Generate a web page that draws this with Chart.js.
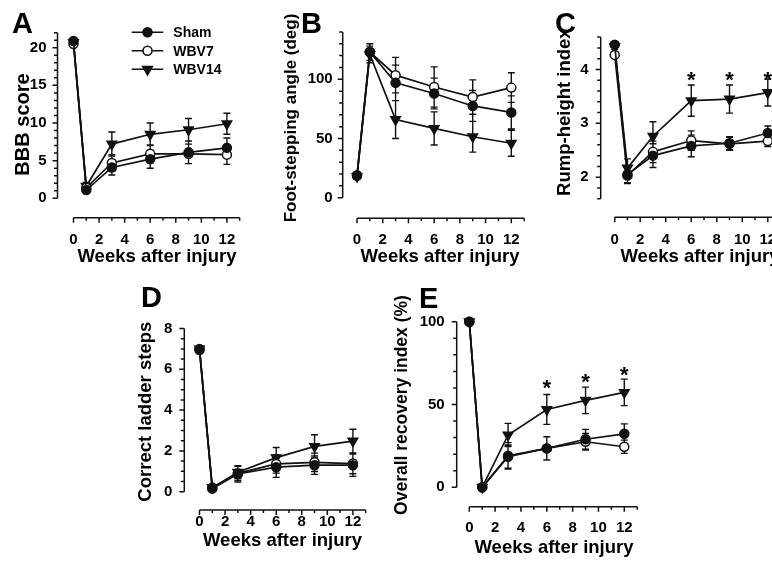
<!DOCTYPE html>
<html>
<head>
<meta charset="utf-8">
<script src="https://cdn.jsdelivr.net/npm/chart.js@4.4.1/dist/chart.umd.min.js"></script>
<style>
  html, body { margin: 0; padding: 0; background: #fff; overflow: hidden; width: 772px; height: 561px; }
  canvas { position: absolute; left: 0; top: 0; }
</style>
</head>
<body>
<canvas id="panelA" width="820" height="561"></canvas>
<canvas id="panelB" width="820" height="561"></canvas>
<canvas id="panelC" width="820" height="561"></canvas>
<canvas id="panelD" width="820" height="561"></canvas>
<canvas id="panelE" width="820" height="561"></canvas>
<script>
// Data (means and error bars per group)
const weeks = [0, 1, 3, 6, 9, 12];
const groups = ['Sham', 'WBV7', 'WBV14'];
const xTickLabels = [0, 2, 4, 6, 8, 10, 12];
const xMinorTicks = [0, 1, 2, 3, 4, 5, 6, 7, 8, 9, 10, 11, 12, 13];
const sigWeeks = [6, 9, 12];

// A - BBB score
const bbbSham = [20.9, 1.1, 4.1, 5.2, 6.1, 6.7];
const bbbShamErr = [0.3, 0.3, 1.0, 1.2, 1.5, 1.3];
const bbbWbv7 = [20.5, 1.4, 4.7, 5.9, 5.9, 5.8];
const bbbWbv7Err = [0.3, 0.4, 1.1, 1.2, 1.3, 1.3];
const bbbWbv14 = [20.7, 1.6, 7.2, 8.5, 9.1, 9.9];
const bbbWbv14Err = [0.3, 0.5, 1.6, 1.5, 1.5, 1.4];
const bbbTicks = [0, 5, 10, 15, 20];
const bbbMinor = [0, 1, 2, 3, 4, 5, 6, 7, 8, 9, 10, 11, 12, 13, 14, 15, 16, 17, 18, 19, 20, 21, 22];

// B - foot-stepping angle
const fsaSham = [18.5, 123, 97, 88, 77.5, 72];
const fsaShamErr = [2, 7, 15, 13, 13, 14];
const fsaWbv7 = [19, 123, 103.5, 93.5, 85, 93];
const fsaWbv7Err = [2, 7, 15, 17, 14.5, 12.5];
const fsaWbv14 = [18, 121, 66, 58.5, 51.5, 46];
const fsaWbv14Err = [2, 7, 16, 14, 13, 11];
const fsaTicks = [0, 50, 100];
const fsaMinor = [0, 10, 20, 30, 40, 50, 60, 70, 80, 90, 100, 110, 120, 130, 140];

// C - rump-height index
const rhiSham = [4.46, 2.05, 2.40, 2.58, 2.63, 2.82];
const rhiShamErr = [0.05, 0.15, 0.22, 0.2, 0.12, 0.13];
const rhiWbv7 = [4.27, 2.03, 2.47, 2.68, 2.62, 2.67];
const rhiWbv7Err = [0.05, 0.15, 0.2, 0.18, 0.12, 0.1];
const rhiWbv14 = [4.42, 2.17, 2.76, 3.42, 3.45, 3.57];
const rhiWbv14Err = [0.05, 0.17, 0.27, 0.29, 0.26, 0.25];
const rhiTicks = [2, 3, 4];
const rhiMinor = [1.6, 1.8, 2, 2.2, 2.4, 2.6, 2.8, 3, 3.2, 3.4, 3.6, 3.8, 4, 4.2, 4.4, 4.6];
const rhiSig = [3.9, 3.9, 3.9];

// D - correct ladder steps
const ladSham = [7.0, 0.15, 0.87, 1.2, 1.3, 1.3];
const ladShamErr = [0.1, 0.1, 0.4, 0.5, 0.45, 0.55];
const ladWbv7 = [6.95, 0.2, 0.9, 1.36, 1.44, 1.38];
const ladWbv7Err = [0.1, 0.1, 0.35, 0.45, 0.45, 0.5];
const ladWbv14 = [7.0, 0.2, 0.95, 1.67, 2.22, 2.48];
const ladWbv14Err = [0.1, 0.1, 0.3, 0.5, 0.57, 0.58];
const ladTicks = [0, 2, 4, 6, 8];
const ladMinor = [0, 0.5, 1, 1.5, 2, 2.5, 3, 3.5, 4, 4.5, 5, 5.5, 6, 6.5, 7, 7.5, 8];

// E - overall recovery index
const oriSham = [100, 0, 18.5, 23.5, 29, 32.3];
const oriShamErr = [0, 0, 7, 7, 6, 6];
const oriWbv7 = [100, 0, 19, 23.5, 27.5, 24.5];
const oriWbv7Err = [0, 0, 8, 7, 5, 4];
const oriWbv14 = [100, 0, 31.6, 47, 52.5, 57.3];
const oriWbv14Err = [0, 0, 7, 9, 8, 8];
const oriTicks = [0, 50, 100];
const oriMinor = [0, 10, 20, 30, 40, 50, 60, 70, 80, 90, 100];
const oriSig = [63, 67, 71];

const FONT = "'Liberation Sans', Arial, Helvetica, sans-serif";
Chart.defaults.font.family = FONT;
Chart.defaults.font.weight = 'bold';
Chart.defaults.color = '#000';

const INK = '#111';
const TICK_SIZE = 15;
const XTITLE_SIZE = 18.5;
const styles = [
  { pointStyle: 'circle', radius: 4.5, bg: INK, rotation: 0 },
  { pointStyle: 'circle', radius: 4.5, bg: '#fff', rotation: 0 },
  { pointStyle: 'triangle', radius: 5.5, bg: INK, rotation: 180 }
];

// axes, ticks, error bars, stars, letters and legend
const deco = {
  id: 'deco',
  beforeDatasetsDraw(chart, args, o) {
    const { ctx, chartArea: a, scales: { x, y } } = chart;
    ctx.save();
    ctx.strokeStyle = INK;
    ctx.lineWidth = 1.5;
    ctx.beginPath();
    ctx.moveTo(a.left, y.getPixelForValue(o.yMinor[o.yMinor.length - 1]));
    ctx.lineTo(a.left, y.getPixelForValue(o.yMinor[0]));
    o.yMinor.forEach(v => {
      const p = y.getPixelForValue(v);
      const len = o.yMajor.includes(v) ? 5 : 3.5;
      ctx.moveTo(a.left - len, p);
      ctx.lineTo(a.left, p);
    });
    ctx.moveTo(x.getPixelForValue(xMinorTicks[0]), a.bottom);
    ctx.lineTo(x.getPixelForValue(xMinorTicks[xMinorTicks.length - 1]), a.bottom);
    xMinorTicks.forEach(v => {
      const p = x.getPixelForValue(v);
      const len = xTickLabels.includes(v) ? 5 : 3;
      ctx.moveTo(p, a.bottom);
      ctx.lineTo(p, a.bottom + len);
    });
    ctx.stroke();

    // error bars
    ctx.lineWidth = 1.4;
    ctx.beginPath();
    chart.data.datasets.forEach(ds => {
      ds.data.forEach((pt, i) => {
        const e = ds.err[i];
        if (!e) return;
        const px = x.getPixelForValue(pt.x);
        const hi = y.getPixelForValue(pt.y + e);
        const lo = y.getPixelForValue(pt.y - e);
        ctx.moveTo(px, hi); ctx.lineTo(px, lo);
        ctx.moveTo(px - 3.5, hi); ctx.lineTo(px + 3.5, hi);
        ctx.moveTo(px - 3.5, lo); ctx.lineTo(px + 3.5, lo);
      });
    });
    ctx.stroke();
    ctx.restore();
  },
  afterDraw(chart, args, o) {
    const { ctx, scales: { x, y } } = chart;
    ctx.save();
    ctx.fillStyle = '#000';
    // panel letter
    ctx.font = 'bold 29px ' + FONT;
    ctx.textBaseline = 'alphabetic';
    ctx.textAlign = 'left';
    ctx.fillText(o.letter.text, o.letter.x, o.letter.y);
    // significance stars
    if (o.sig) {
      ctx.font = 'bold 22px ' + FONT;
      ctx.textAlign = 'center';
      sigWeeks.forEach((w, i) => {
        ctx.fillText('*', x.getPixelForValue(w), y.getPixelForValue(o.sig[i]) + 12.5);
      });
    }
    // legend
    if (o.legend) {
      const L = o.legend;
      groups.forEach((g, i) => {
        const ly = L.y + i * L.dy;
        ctx.strokeStyle = INK;
        ctx.lineWidth = 1.6;
        ctx.beginPath();
        ctx.moveTo(L.x0, ly); ctx.lineTo(L.x1, ly);
        ctx.stroke();
        const s = styles[i];
        ctx.fillStyle = s.bg;
        Chart.helpers.drawPoint(ctx, { pointStyle: s.pointStyle, radius: s.radius, rotation: s.rotation, borderWidth: 1.5 }, (L.x0 + L.x1) / 2, ly);
        ctx.fillStyle = '#000';
        ctx.font = 'bold 14px ' + FONT;
        ctx.textAlign = 'left';
        ctx.textBaseline = 'middle';
        ctx.fillText(g, L.tx, ly + 1);
      });
    }
    ctx.restore();
  }
};

function valueAt(cal, p) {
  const [v0, p0, v1, p1] = cal;
  return v0 + (p - p0) * (v1 - v0) / (p1 - p0);
}

function makePanel(id, layout, series, errs, yTicks, yMinor, yTitle, extra) {
  const a = layout.area;
  const W = 820, H = 561;
  const datasets = series.map((vals, i) => ({
    label: groups[i],
    data: weeks.map((w, k) => ({ x: w, y: vals[k] })),
    err: errs[i],
    borderColor: INK,
    borderWidth: 1.7,
    backgroundColor: styles[i].bg,
    pointBackgroundColor: styles[i].bg,
    pointBorderColor: INK,
    pointBorderWidth: 1.5,
    pointStyle: styles[i].pointStyle,
    pointRotation: styles[i].rotation,
    pointRadius: styles[i].radius,
    pointHoverRadius: styles[i].radius,
    tension: 0,
    clip: false
  }));
  return new Chart(document.getElementById(id), {
    type: 'line',
    data: { datasets },
    options: {
      responsive: false,
      animation: false,
      events: [],
      layout: { padding: { left: 0, top: a.t, right: W - a.r, bottom: 0 } },
      scales: {
        x: {
          type: 'linear',
          min: valueAt(layout.xCal, a.l),
          max: valueAt(layout.xCal, a.r),
          grid: { display: false, drawTicks: false },
          border: { display: false },
          afterBuildTicks: s => { s.ticks = xTickLabels.map(v => ({ value: v })); },
          afterFit: s => { s.height = H - a.b; s.paddingLeft = 0; s.paddingRight = 0; },
          ticks: {
            autoSkip: false, maxRotation: 0,
            padding: layout.xLabelY - a.b - TICK_SIZE * 0.6,
            font: { size: TICK_SIZE, weight: 'bold' },
            callback: v => String(v)
          },
          title: {
            display: true, text: 'Weeks after injury',
            font: { size: XTITLE_SIZE, weight: 'bold' },
            padding: { top: 0, bottom: H - layout.xTitleY - XTITLE_SIZE * 0.6 }
          }
        },
        y: {
          type: 'linear',
          min: valueAt(layout.yCal, a.b),
          max: valueAt(layout.yCal, a.t),
          grid: { display: false, drawTicks: false },
          border: { display: false },
          afterBuildTicks: s => { s.ticks = yTicks.map(v => ({ value: v })); },
          afterFit: s => { s.width = a.l; s.paddingTop = 0; s.paddingBottom = 0; },
          ticks: {
            autoSkip: false,
            padding: layout.yGap,
            font: { size: TICK_SIZE, weight: 'bold' },
            callback: v => String(v)
          },
          title: {
            display: true, text: yTitle,
            font: { size: layout.yTitleSize, weight: 'bold' },
            padding: { top: layout.yTitleX - layout.yTitleSize * 0.6, bottom: 0 }
          }
        }
      },
      plugins: {
        legend: { display: false },
        tooltip: { enabled: false },
        deco: Object.assign({ yMinor, yMajor: yTicks }, extra)
      }
    },
    plugins: [deco]
  });
}

makePanel('panelA',
  { area: { l: 57.5, r: 256.5, t: 31.3, b: 217.7 }, xCal: [0, 73.5, 12, 226.9], yCal: [0, 198.3, 20, 47.7],
    yTitleX: 23, yTitleSize: 20, xTitleY: 257, xLabelY: 240, yGap: 11 },
  [bbbSham, bbbWbv7, bbbWbv14], [bbbShamErr, bbbWbv7Err, bbbWbv14Err],
  bbbTicks, bbbMinor, 'BBB score',
  { letter: { text: 'A', x: 12, y: 33.3 },
    legend: { x0: 131.7, x1: 163.3, y: 32.3, dy: 18.5, tx: 173.3 } });

makePanel('panelB',
  { area: { l: 342.7, r: 537.3, t: 17.7, b: 218.3 }, xCal: [0, 357, 12, 511.3], yCal: [0, 197.7, 100, 79.3],
    yTitleX: 291.7, yTitleSize: 17, xTitleY: 257, xLabelY: 240, yGap: 10 },
  [fsaSham, fsaWbv7, fsaWbv14], [fsaShamErr, fsaWbv7Err, fsaWbv14Err],
  fsaTicks, fsaMinor, 'Foot-stepping angle (deg)',
  { letter: { text: 'B', x: 301, y: 33 } });

makePanel('panelC',
  { area: { l: 600.7, r: 799.3, t: 0.7, b: 217.3 }, xCal: [0, 614.7, 12, 767.8], yCal: [2, 176, 4, 65],
    yTitleX: 565, yTitleSize: 18.5, xTitleY: 257, xLabelY: 240, yGap: 12 },
  [rhiSham, rhiWbv7, rhiWbv14], [rhiShamErr, rhiWbv7Err, rhiWbv14Err],
  rhiTicks, rhiMinor, 'Rump-height index',
  { letter: { text: 'C', x: 555, y: 33 }, sig: rhiSig });

makePanel('panelD',
  { area: { l: 184.3, r: 380.7, t: 313.4, b: 510 }, xCal: [0, 199.5, 12, 352.9], yCal: [0, 491.7, 8, 328.5],
    yTitleX: 146, yTitleSize: 18.5, xTitleY: 541, xLabelY: 522, yGap: 12 },
  [ladSham, ladWbv7, ladWbv14], [ladShamErr, ladWbv7Err, ladWbv14Err],
  ladTicks, ladMinor, 'Correct ladder steps',
  { letter: { text: 'D', x: 141, y: 306.7 } });

makePanel('panelE',
  { area: { l: 456.7, r: 651.3, t: 303.3, b: 506.7 }, xCal: [0, 469.3, 12, 624.3], yCal: [0, 487.3, 100, 321.7],
    yTitleX: 402, yTitleSize: 17.5, xTitleY: 548, xLabelY: 528, yGap: 12 },
  [oriSham, oriWbv7, oriWbv14], [oriShamErr, oriWbv7Err, oriWbv14Err],
  oriTicks, oriMinor, 'Overall recovery index (%)',
  { letter: { text: 'E', x: 419, y: 308.3 }, sig: oriSig });
</script>
</body>
</html>
